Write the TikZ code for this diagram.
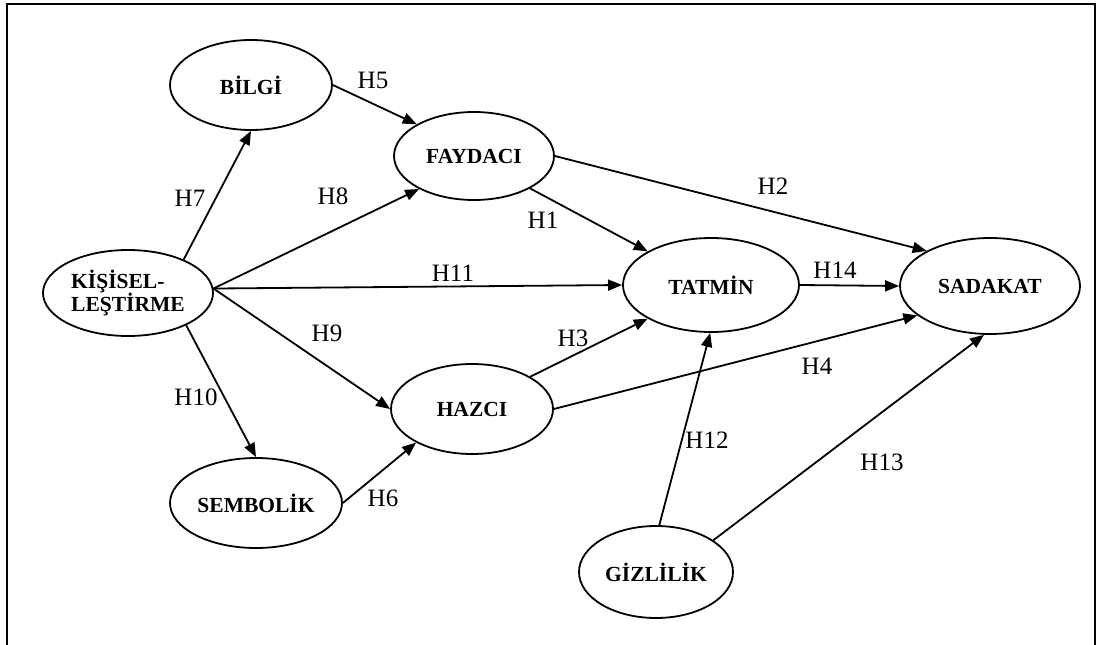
\documentclass[tikz,border=0pt]{standalone}
\usepackage{fontspec}
\setmainfont{Liberation Serif}
\usetikzlibrary{shapes.geometric,arrows.meta}
\begin{document}
\begin{tikzpicture}[x=1pt,y=-1pt,
  latent/.style={ellipse,draw,line width=1.8pt,inner sep=0pt,font=\fontsize{21.5}{25}\selectfont\bfseries},
  hyp/.style={font=\fontsize{25}{28}\selectfont,inner sep=0pt},
  link/.style={line width=1.8pt,-{Triangle[length=14pt,width=11pt]}},
  frameline/.style={line width=2pt}]
\useasboundingbox (0,0) rectangle (1106,645);
\draw[frameline] (7,646) -- (7,4) -- (1095,4) -- (1095,646);

\node[latent,minimum width=162pt,minimum height=90pt] (bil) at (251,85) {BİLGİ};
\node[latent,minimum width=160pt,minimum height=88pt] (fay) at (474,156) {FAYDACI};
\node[latent,minimum width=170pt,minimum height=86pt,align=left] (kis) at (128,293) {KİŞİSEL-\\[-2pt]LEŞTİRME};
\node[latent,minimum width=176pt,minimum height=94pt] (tat) at (711,285) {TATMİN};
\node[latent,minimum width=180pt,minimum height=96pt] (sad) at (990,286) {SADAKAT};
\node[latent,minimum width=162pt,minimum height=90pt] (haz) at (472,409) {HAZCI};
\node[latent,minimum width=172pt,minimum height=90pt] (sem) at (256,503) {SEMBOLİK};
\node[latent,minimum width=154pt,minimum height=92pt] (giz) at (656,572) {GİZLİLİK};

\draw[link] (bil.0) -- (fay.151.5);
\draw[link] (kis.31) -- (bil.270);
\draw[link] (kis.3) -- (fay.211);
\draw[link] (kis.3) -- (tat.180);
\draw[link] (kis.3) -- (haz.180);
\draw[link] (kis.331) -- (sem.90);
\draw[link] (sem.0) -- (haz.211);
\draw[link] (fay.330) -- (tat.152.7);
\draw[link] (fay.0) -- (sad.151.7);
\draw[link] (haz.29.6) -- (tat.208);
\draw[link] (haz.0) -- (sad.202.7);
\draw[link] (tat.east) -- (sad.west);
\draw[link] (giz.86) -- (tat.269);
\draw[link] (giz.29) -- (sad.263.4);

\node[hyp] (l5) at (373,80) {H5};
\node[hyp] (l7) at (190,198) {H7};
\node[hyp] (l8) at (333,196) {H8};
\node[hyp] (l11) at (453,273) {H11};
\node[hyp] (l9) at (327,333) {H9};
\node[hyp] (l10) at (196,397) {H10};
\node[hyp] (l6) at (383,498) {H6};
\node[hyp] (l1) at (543,220) {H1};
\node[hyp] (l2) at (773,186) {H2};
\node[hyp] (l3) at (573,338) {H3};
\node[hyp] (l4) at (817,366) {H4};
\node[hyp] (l14) at (835,270) {H14};
\node[hyp] (l12) at (707,440) {H12};
\node[hyp] (l13) at (882,462) {H13};
\end{tikzpicture}
\end{document}
